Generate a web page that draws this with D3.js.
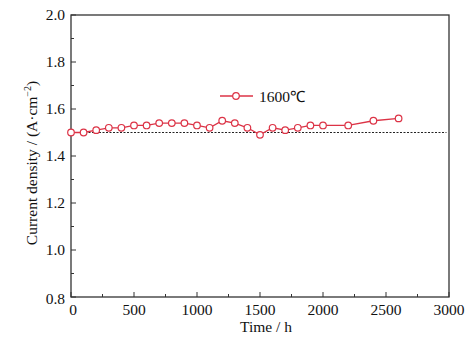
<!DOCTYPE html>
<html>
<head>
<meta charset="utf-8">
<script src="https://cdn.jsdelivr.net/npm/d3@7"></script>
<style>
  html, body { margin: 0; padding: 0; background: #fff; }
  svg { display: block; }
  text { font-family: "Liberation Serif", "Times New Roman", serif; fill: #111; }
</style>
</head>
<body>
<svg id="chart" width="476" height="342"></svg>
<script>
// Current density over operating time at 1600 ℃
const timeHours = [0, 100, 200, 300, 400, 500, 600, 700, 800, 900, 1000, 1100, 1200,
                   1300, 1400, 1500, 1600, 1700, 1800, 1900, 2000, 2200, 2400, 2600];
const currentDensity = [1.50, 1.50, 1.51, 1.52, 1.52, 1.53, 1.53, 1.54, 1.54, 1.54, 1.53, 1.52, 1.55,
                        1.54, 1.52, 1.49, 1.52, 1.51, 1.52, 1.53, 1.53, 1.53, 1.55, 1.56];
const seriesLabel = "1600℃";
const referenceLevel = 1.5;
const xTicks = [0, 500, 1000, 1500, 2000, 2500, 3000];
const yTicks = [0.8, 1.0, 1.2, 1.4, 1.6, 1.8, 2.0];

const svg = d3.select("#chart");
const m = { left: 71, right: 449, top: 15, bottom: 297 };
const red = "#dc3346";

const x = d3.scaleLinear().domain([0, 3000]).range([m.left, m.right]);
const y = d3.scaleLinear().domain([0.8, 2.0]).range([m.bottom, m.top]);

// frame
svg.append("rect")
  .attr("x", m.left).attr("y", m.top)
  .attr("width", m.right - m.left).attr("height", m.bottom - m.top)
  .attr("fill", "none").attr("stroke", "#333").attr("stroke-width", 1.3);

// bottom axis: inward ticks, minor ticks between majors
const xMinor = d3.range(250, 3000, 500);
const gx = svg.append("g").attr("transform", `translate(0,${m.bottom})`);
gx.selectAll("line.major").data(xTicks).join("line")
  .attr("x1", d => x(d)).attr("x2", d => x(d)).attr("y1", 0).attr("y2", -5)
  .attr("stroke", "#333").attr("stroke-width", 1);
gx.selectAll("line.minor").data(xMinor).join("line")
  .attr("x1", d => x(d)).attr("x2", d => x(d)).attr("y1", 0).attr("y2", -3)
  .attr("stroke", "#333").attr("stroke-width", 1);
gx.selectAll("text").data(xTicks).join("text")
  .attr("x", d => x(d) + (d === 0 ? 2 : 0)).attr("y", 18)
  .attr("text-anchor", "middle").attr("font-size", 15.5)
  .text(d => d);

// left axis
const yMinor = d3.range(0.9, 2.0, 0.2);
const gy = svg.append("g").attr("transform", `translate(${m.left},0)`);
gy.selectAll("line.major").data(yTicks).join("line")
  .attr("x1", 0).attr("x2", 5).attr("y1", d => y(d)).attr("y2", d => y(d))
  .attr("stroke", "#333").attr("stroke-width", 1);
gy.selectAll("line.minor").data(yMinor).join("line")
  .attr("x1", 0).attr("x2", 3).attr("y1", d => y(d)).attr("y2", d => y(d))
  .attr("stroke", "#333").attr("stroke-width", 1);
gy.selectAll("text").data(yTicks).join("text")
  .attr("x", -6).attr("y", d => y(d) + 5 + (d === 0.8 ? 2 : 0))
  .attr("text-anchor", "end").attr("font-size", 15.5)
  .text(d => d.toFixed(1));

// axis titles
svg.append("text")
  .attr("x", (m.left + m.right) / 2 + 6).attr("y", 332)
  .attr("text-anchor", "middle").attr("font-size", 15.5)
  .text("Time / h");

const yt = svg.append("text")
  .attr("transform", `translate(37,${163}) rotate(-90)`)
  .attr("text-anchor", "middle").attr("font-size", 15.5);
yt.append("tspan").text("Current density / (A·cm");
yt.append("tspan").attr("dy", -6).attr("font-size", 10).text("−2");
yt.append("tspan").attr("dy", 6).text(")");

// reference level
svg.append("line")
  .attr("x1", x(0)).attr("x2", x(2980))
  .attr("y1", y(referenceLevel)).attr("y2", y(referenceLevel))
  .attr("stroke", "#222").attr("stroke-width", 1.1).attr("stroke-dasharray", "2,1.5");

// series
const pts = timeHours.map((t, i) => [t, currentDensity[i]]);
svg.append("path")
  .datum(pts)
  .attr("d", d3.line().x(d => x(d[0])).y(d => y(d[1])))
  .attr("fill", "none").attr("stroke", red).attr("stroke-width", 1.3);
svg.selectAll("circle.pt").data(pts).join("circle")
  .attr("class", "pt")
  .attr("cx", d => x(d[0])).attr("cy", d => y(d[1])).attr("r", 3.3)
  .attr("fill", "#fff").attr("stroke", red).attr("stroke-width", 1.2);

// legend
const lg = svg.append("g").attr("transform", "translate(220,96)");
lg.append("line").attr("x1", 0).attr("x2", 33).attr("y1", 0).attr("y2", 0)
  .attr("stroke", red).attr("stroke-width", 1.3);
lg.append("circle").attr("cx", 16).attr("cy", 0).attr("r", 3.3)
  .attr("fill", "#fff").attr("stroke", red).attr("stroke-width", 1.2);
lg.append("text").attr("x", 39).attr("y", 5.5).attr("font-size", 15.5).text(seriesLabel);
</script>
</body>
</html>
